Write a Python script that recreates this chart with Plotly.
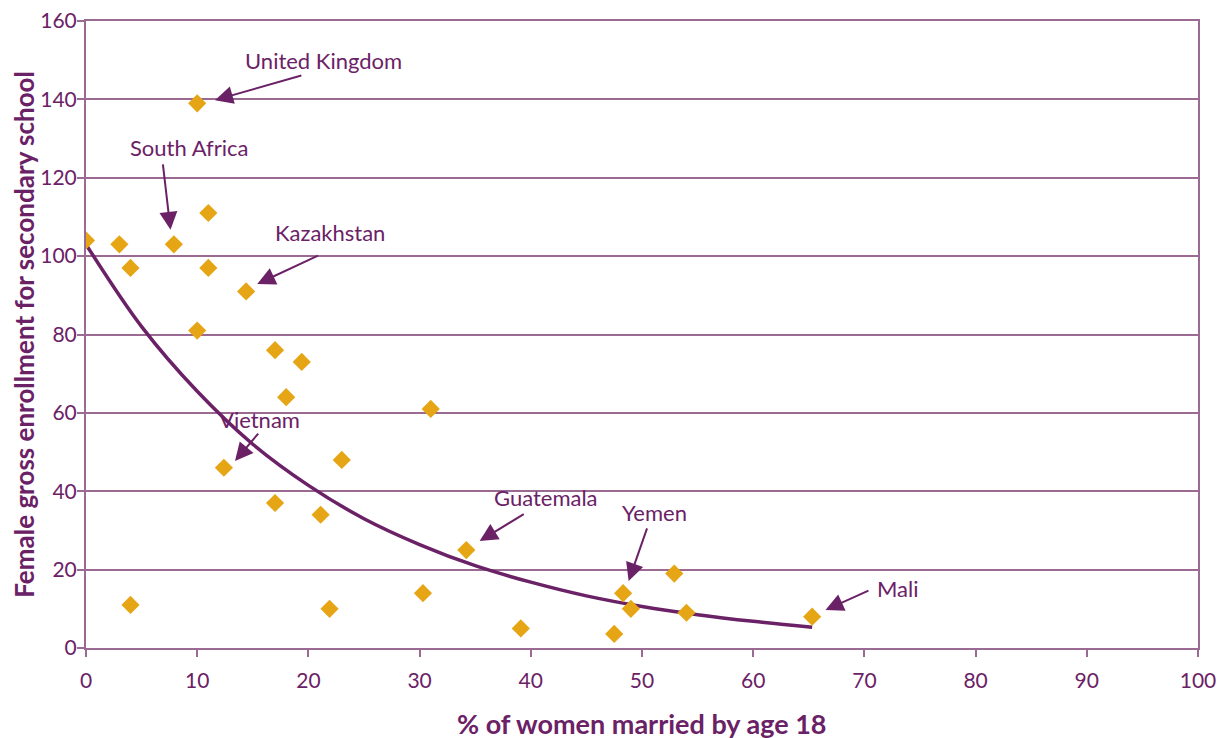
import plotly.graph_objects as go

# % of women married by age 18
married_pct = [0, 3, 4, 4, 7.9, 10, 11, 11, 10, 14.4, 17, 19.4, 18, 12.4, 17, 21.1, 23, 21.9,
               31, 30.3, 34.2, 39.1, 47.5, 48.3, 49, 52.9, 54, 65.3]
# Female gross enrollment for secondary school
enrollment = [104, 103, 97, 11, 103, 139, 111, 97, 81, 91, 76, 73, 64, 46, 37, 34, 48, 10,
              61, 14, 25, 5, 3.6, 14, 10, 19, 9, 8]

# trendline
trend_x = [0, 5, 10, 15, 20, 25, 30, 35, 40, 45, 50, 55, 60, 65.3]
trend_y = [103, 82, 65.5, 52, 41.5, 33, 26.4, 21, 16.8, 13.3, 10.6, 8.5, 6.8, 5.3]

# annotations: label, text pos, arrow tail, arrow head
labels = ["United Kingdom", "South Africa", "Kazakhstan", "Vietnam", "Guatemala", "Yemen", "Mali"]
label_x = [21.4, 9.3, 21.9, 15.6, 41.4, 51.1, 73.0]
label_y = [149.8, 127.8, 106.0, 58.2, 38.5, 34.7, 15.1]
tail_x = [19.5, 6.9, 21.0, 15.6, 39.5, 50.5, 70.5]
tail_y = [146.2, 123.8, 100.3, 55.1, 34.4, 30.9, 14.8]
head_x = [11.6, 7.6, 15.4, 13.4, 35.4, 48.8, 66.5]
head_y = [139.8, 106.7, 92.9, 47.7, 27.3, 17.1, 9.7]

x_ticks = list(range(0, 101, 10))
y_ticks = list(range(0, 161, 20))

PURPLE = "#6B2166"
GRID = "#9A6A93"
ORANGE = "#E6A514"
FONT = "Lato"

fig = go.Figure()
fig.add_trace(go.Scatter(
    x=trend_x, y=trend_y, mode="lines",
    line=dict(color=PURPLE, width=3.5, shape="spline"),
    hoverinfo="skip", showlegend=False))
fig.add_trace(go.Scatter(
    x=married_pct, y=enrollment, mode="markers",
    marker=dict(symbol="diamond", size=14, color=ORANGE, line=dict(width=0)),
    showlegend=False))

for i, lab in enumerate(labels):
    fig.add_annotation(x=label_x[i], y=label_y[i], text=lab, showarrow=False,
                       font=dict(family=FONT, size=22, color=PURPLE),
                       xref="x", yref="y")
    fig.add_annotation(x=head_x[i], y=head_y[i], ax=tail_x[i], ay=tail_y[i],
                       axref="x", ayref="y", xref="x", yref="y", text="",
                       showarrow=True, arrowhead=2, arrowsize=1.8, arrowwidth=2,
                       arrowcolor=PURPLE, standoff=0, startstandoff=0)

# axis titles
fig.add_annotation(x=0.5, y=-0.12, xref="paper", yref="paper",
                   text="<b>% of women married by age 18</b>", showarrow=False,
                   xanchor="center", yanchor="middle",
                   font=dict(family=FONT, size=27, color=PURPLE))
fig.add_annotation(x=-0.0565, y=0.5, xref="paper", yref="paper",
                   text="<b>Female gross enrollment for secondary school</b>", showarrow=False,
                   xanchor="center", yanchor="middle", textangle=-90, borderpad=0,
                   font=dict(family=FONT, size=26, color=PURPLE))

fig.update_layout(
    width=1231, height=738,
    margin=dict(l=78, r=41, t=13, b=98),
    paper_bgcolor="white", plot_bgcolor="white",
    font=dict(family=FONT, color=PURPLE, size=20),
    xaxis=dict(range=[0, 100], tickvals=x_ticks, ticks="outside", ticklen=7,
               tickcolor=GRID, tickwidth=1.5, automargin=False,
               ticklabelstandoff=6, ticklabeloverflow="allow",
               showgrid=False, zeroline=False, showline=True, linecolor=GRID,
               linewidth=2, mirror=True,
               tickfont=dict(family=FONT, size=21, color=PURPLE)),
    yaxis=dict(range=[0, 160], tickvals=y_ticks, ticks="outside", ticklen=7,
               tickcolor=GRID, tickwidth=1.5, automargin=False,
               ticklabelstandoff=-4, ticklabeloverflow="allow",
               showgrid=True, gridcolor=GRID, gridwidth=1.5,
               zeroline=False, showline=True, linecolor=GRID, linewidth=2, mirror=True,
               tickfont=dict(family=FONT, size=21, color=PURPLE)),
)

fig.write_html("out.html")
